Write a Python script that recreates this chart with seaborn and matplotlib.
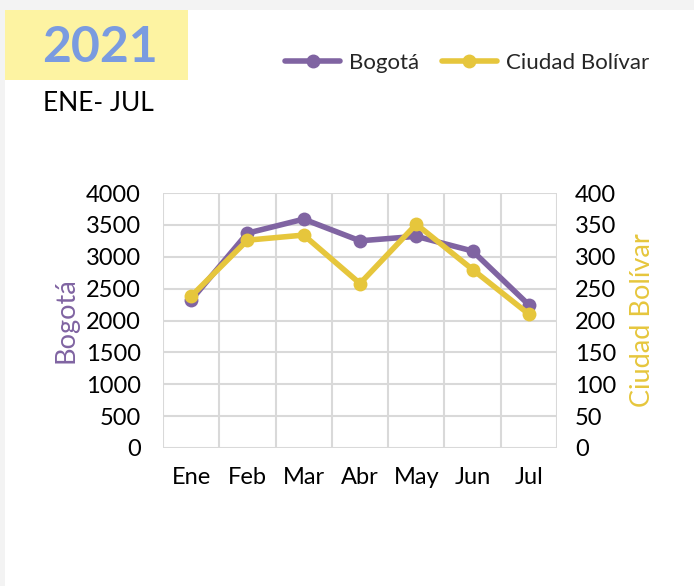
import pandas as pd
import numpy as np
import matplotlib.pyplot as plt
import seaborn as sns
from matplotlib.lines import Line2D
from matplotlib.patches import Rectangle

meses = ["Ene", "Feb", "Mar", "Abr", "May", "Jun", "Jul"]
bogota = [2320, 3370, 3590, 3250, 3320, 3090, 2245]
ciudad_bolivar = [238, 326, 334, 258, 351, 280, 210]

morado = "#8064A2"
amarillo = "#E6C63C"

sns.set_theme(style="white")
plt.rcParams['font.family'] = ['Lato', 'DejaVu Sans']

df = pd.DataFrame({"Mes": meses, "Bogota": bogota, "CB": ciudad_bolivar})
df["x"] = np.arange(len(meses))

fig = plt.figure(figsize=(6.94, 5.86), dpi=100)
fig.patch.set_facecolor("#F3F3F3")
fig.patches.append(Rectangle((5 / 694, 0), 1, 1 - 10 / 586, transform=fig.transFigure,
                             facecolor="white", edgecolor="none", zorder=-3))
fig.patches.append(Rectangle((5 / 694, 1 - 80 / 586), 183 / 694, 70 / 586, transform=fig.transFigure,
                             facecolor="#FDF3A2", edgecolor="none", zorder=-2))
fig.text(100 / 694, 1 - 47 / 586, "2021", ha="center", va="center", fontsize=36,
         fontweight="bold", color="#7A9BE0")
fig.text(43 / 694, 1 - 103 / 586, "ENE- JUL", ha="left", va="center", fontsize=19, color="black")

ax = fig.add_axes([163 / 694, 1 - 448 / 586, 394 / 694, 255 / 586])
ax.set_facecolor("none")
ax2 = ax.twinx()
ax2.set_facecolor("none")

sns.lineplot(data=df, x="x", y="Bogota", ax=ax, color=morado, marker="o", markersize=10,
             linewidth=4, markeredgewidth=0, zorder=3)
sns.lineplot(data=df, x="x", y="CB", ax=ax2, color=amarillo, marker="o", markersize=10,
             linewidth=4, markeredgewidth=0, zorder=4)

ax.set_xlim(-0.5, 6.5)
ax.set_ylim(0, 4000)
ax2.set_ylim(0, 400)
ax.set_yticks(np.arange(0, 4001, 500))
ax2.set_yticks(np.arange(0, 401, 50))
ax.set_xticks(df["x"])
ax.set_xticklabels(meses)
ax.set_xticks(np.arange(-0.5, 7, 1), minor=True)
ax.grid(True, which="major", axis="y", color="#D9D9D9", linewidth=1.5)
ax.grid(True, which="minor", axis="x", color="#D9D9D9", linewidth=1.5)
ax.set_axisbelow(True)
for a in (ax, ax2):
    for s in a.spines.values():
        s.set_visible(False)
    a.tick_params(length=0, labelsize=17, colors="black")
ax.tick_params(axis="x", which="both", length=0, pad=14)
ax.tick_params(axis="y", pad=16)
ax2.tick_params(axis="y", pad=13)

ax.set_xlabel("")
ax.set_ylabel("Bogotá", color=morado, fontsize=19.5, labelpad=5)
ax2.set_ylabel("Ciudad Bolívar", color=amarillo, fontsize=19.5, labelpad=10)

handles = [Line2D([], [], color=morado, marker="o", linewidth=4, markersize=9),
           Line2D([], [], color=amarillo, marker="o", linewidth=4, markersize=9)]
fig.legend(handles, ["Bogotá", "Ciudad Bolívar"], loc="center", ncol=2,
           bbox_to_anchor=(467 / 694, 1 - 63 / 586), frameon=False, fontsize=16,
           handlelength=2.5, columnspacing=1.0, handletextpad=0.4)

fig.savefig("out.png", dpi=100, facecolor=fig.get_facecolor())
